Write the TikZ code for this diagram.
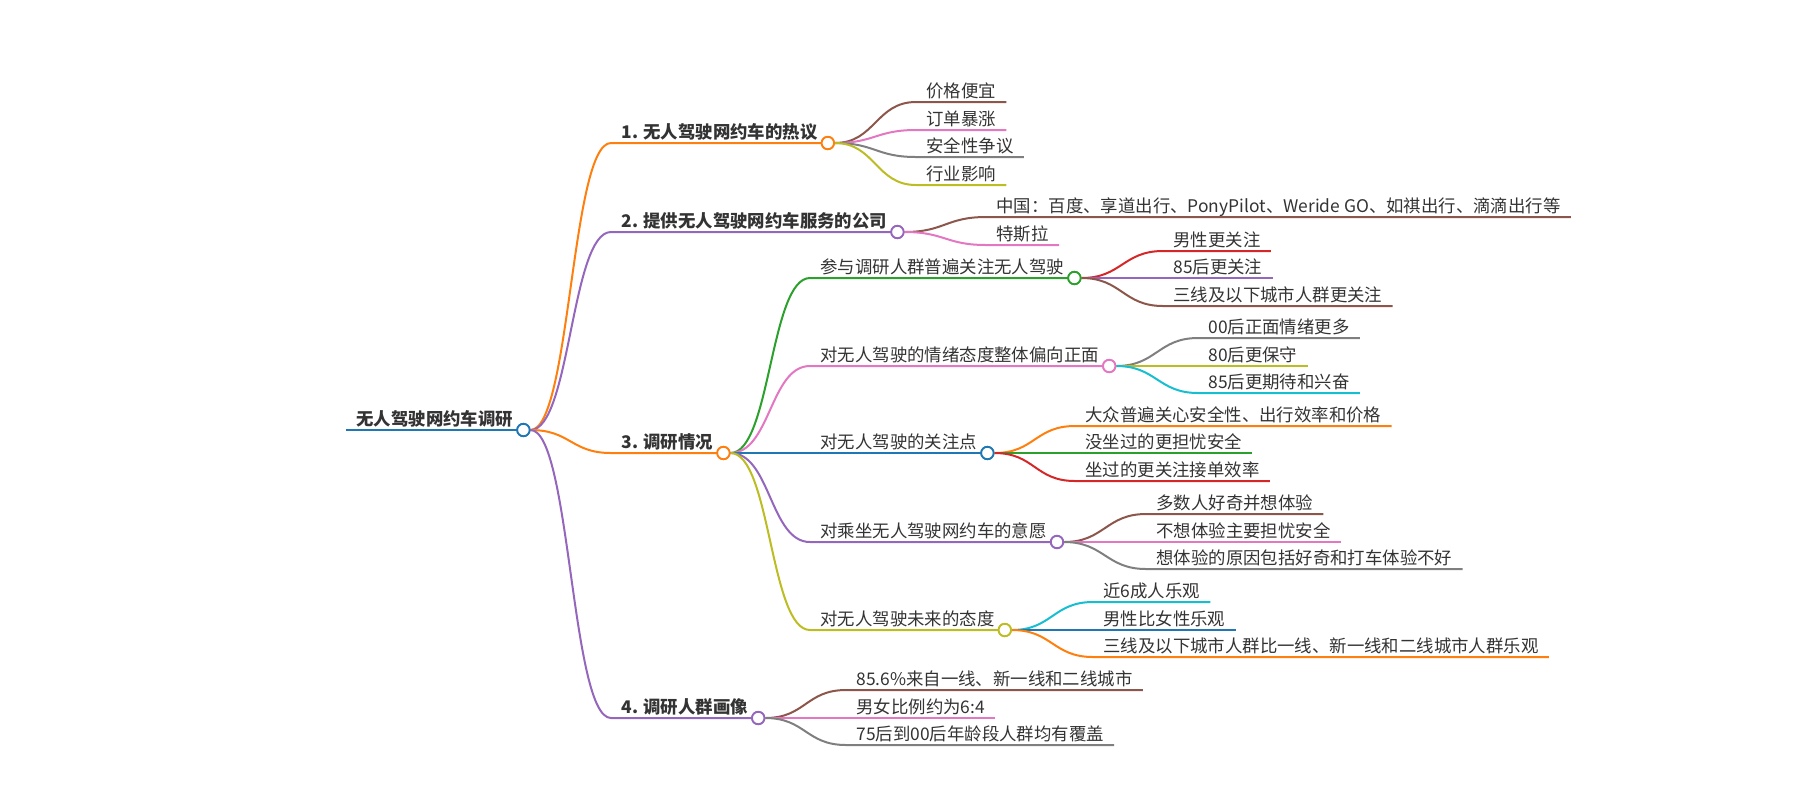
\documentclass[tikz,border=0pt]{standalone}
\usepackage{fontspec}
\setmainfont{Noto Sans CJK SC}
\usetikzlibrary{calc}
\definecolor{ink}{HTML}{333333}
\definecolor{cblue}{HTML}{1F77B4}
\definecolor{corange}{HTML}{FF7F0E}
\definecolor{cgreen}{HTML}{2CA02C}
\definecolor{cred}{HTML}{D62728}
\definecolor{cpurple}{HTML}{9467BD}
\definecolor{cbrown}{HTML}{8C564B}
\definecolor{cpink}{HTML}{E377C2}
\definecolor{cgray}{HTML}{7F7F7F}
\definecolor{colive}{HTML}{BCBD22}
\definecolor{ccyan}{HTML}{17BECF}
\tikzset{
  mind/.style={line width=1pt},
  link/.style={out=0,in=180,distance=20pt},
  topic/.style={anchor=south west,inner xsep=5pt,inner ysep=2.2pt,text depth=0pt,
    text=ink,font=\fontsize{8.7}{10}\selectfont\bfseries},
  leaf/.style={topic,font=\fontsize{8.7}{10}\selectfont},
  knob/.style={circle,draw,fill=white,line width=0.9pt,inner sep=0pt,minimum size=6.2pt},
}

\begin{document}
\begin{tikzpicture}[x=0.5pt,y=-0.5pt]
  \useasboundingbox (0,0) rectangle (1800,800);

  \node[topic] (root) at (346,430) {无人驾驶网约车调研};
  \node[topic] (b1) at (611,143) {1. 无人驾驶网约车的热议};
  \node[topic] (b2) at (611,232) {2. 提供无人驾驶网约车服务的公司};
  \node[topic] (b3) at (611,453) {3. 调研情况};
  \node[topic] (b4) at (611,718) {4. 调研人群画像};

  \node[leaf] (b1a) at (916,102) {价格便宜};
  \node[leaf] (b1b) at (916,130) {订单暴涨};
  \node[leaf] (b1c) at (916,157) {安全性争议};
  \node[leaf] (b1d) at (916,185) {行业影响};

  \node[leaf] (b2a) at (986,217) {中国：百度、享道出行、PonyPilot、Weride GO、如祺出行、滴滴出行等};
  \node[leaf] (b2b) at (986,245) {特斯拉};

  \node[leaf] (s1) at (810,278) {参与调研人群普遍关注无人驾驶};
  \node[leaf] (s2) at (810,366) {对无人驾驶的情绪态度整体偏向正面};
  \node[leaf] (s3) at (810,453) {对无人驾驶的关注点};
  \node[leaf] (s4) at (810,542) {对乘坐无人驾驶网约车的意愿};
  \node[leaf] (s5) at (810,630) {对无人驾驶未来的态度};

  \node[leaf] (s1a) at (1163,251) {男性更关注};
  \node[leaf] (s1b) at (1163,278) {85后更关注};
  \node[leaf] (s1c) at (1163,306) {三线及以下城市人群更关注};
  \node[leaf] (s2a) at (1198,338) {00后正面情绪更多};
  \node[leaf] (s2b) at (1198,366) {80后更保守};
  \node[leaf] (s2c) at (1198,393) {85后更期待和兴奋};
  \node[leaf] (s3a) at (1075,426) {大众普遍关心安全性、出行效率和价格};
  \node[leaf] (s3b) at (1075,453) {没坐过的更担忧安全};
  \node[leaf] (s3c) at (1075,481) {坐过的更关注接单效率};
  \node[leaf] (s4a) at (1146,514) {多数人好奇并想体验};
  \node[leaf] (s4b) at (1146,542) {不想体验主要担忧安全};
  \node[leaf] (s4c) at (1146,569) {想体验的原因包括好奇和打车体验不好};
  \node[leaf] (s5a) at (1093,602) {近6成人乐观};
  \node[leaf] (s5b) at (1093,630) {男性比女性乐观};
  \node[leaf] (s5c) at (1093,657) {三线及以下城市人群比一线、新一线和二线城市人群乐观};

  \node[leaf] (b4a) at (846,690) {85.6\%来自一线、新一线和二线城市};
  \node[leaf] (b4b) at (846,718) {男女比例约为6:4};
  \node[leaf] (b4c) at (846,745) {75后到00后年龄段人群均有覆盖};

  % underlines and links
  \draw[mind,cblue] (root.south west) -- (root.south east);
  \node[knob,draw=cblue] (rootk) at (root.south east) {};

  \draw[mind,corange] (rootk.east) to[link] (b1.south west) -- (b1.south east);
  \draw[mind,cpurple] (rootk.east) to[link] (b2.south west) -- (b2.south east);
  \draw[mind,corange] (rootk.east) to[link] (b3.south west) -- (b3.south east);
  \draw[mind,cpurple] (rootk.east) to[link] (b4.south west) -- (b4.south east);
  \node[knob,draw=corange] (b1k) at (b1.south east) {};
  \node[knob,draw=cpurple] (b2k) at (b2.south east) {};

  \draw[mind,cbrown] (b1k.east) to[link] (b1a.south west) -- (b1a.south east);
  \draw[mind,cpink] (b1k.east) to[link] (b1b.south west) -- (b1b.south east);
  \draw[mind,cgray] (b1k.east) to[link] (b1c.south west) -- (b1c.south east);
  \draw[mind,colive] (b1k.east) to[link] (b1d.south west) -- (b1d.south east);
  \node[knob,draw=corange] at (b1.south east) {};

  \draw[mind,cbrown] (b2k.east) to[link] (b2a.south west) -- (b2a.south east);
  \draw[mind,cpink] (b2k.east) to[link] (b2b.south west) -- (b2b.south east);
  \node[knob,draw=cpurple] at (b2.south east) {};

  \node[knob,draw=corange] (b3k) at (b3.south east) {};
  \draw[mind,cgreen] (b3k.east) to[link] (s1.south west) -- (s1.south east);
  \draw[mind,cpink] (b3k.east) to[link] (s2.south west) -- (s2.south east);
  \draw[mind,cblue] (b3k.east) to[link] (s3.south west) -- (s3.south east);
  \draw[mind,cpurple] (b3k.east) to[link] (s4.south west) -- (s4.south east);
  \draw[mind,colive] (b3k.east) to[link] (s5.south west) -- (s5.south east);
  \node[knob,draw=corange] at (b3.south east) {};

  \node[knob,draw=cgreen] (s1k) at (s1.south east) {};
  \node[knob,draw=cpink] (s2k) at (s2.south east) {};
  \node[knob,draw=cblue] (s3k) at (s3.south east) {};
  \node[knob,draw=cpurple] (s4k) at (s4.south east) {};
  \node[knob,draw=colive] (s5k) at (s5.south east) {};

  \draw[mind,cred] (s1k.east) to[link] (s1a.south west) -- (s1a.south east);
  \draw[mind,cpurple] (s1k.east) to[link] (s1b.south west) -- (s1b.south east);
  \draw[mind,cbrown] (s1k.east) to[link] (s1c.south west) -- (s1c.south east);
  \draw[mind,cgray] (s2k.east) to[link] (s2a.south west) -- (s2a.south east);
  \draw[mind,colive] (s2k.east) to[link] (s2b.south west) -- (s2b.south east);
  \draw[mind,ccyan] (s2k.east) to[link] (s2c.south west) -- (s2c.south east);
  \draw[mind,corange] (s3k.east) to[link] (s3a.south west) -- (s3a.south east);
  \draw[mind,cgreen] (s3k.east) to[link] (s3b.south west) -- (s3b.south east);
  \draw[mind,cred] (s3k.east) to[link] (s3c.south west) -- (s3c.south east);
  \draw[mind,cbrown] (s4k.east) to[link] (s4a.south west) -- (s4a.south east);
  \draw[mind,cpink] (s4k.east) to[link] (s4b.south west) -- (s4b.south east);
  \draw[mind,cgray] (s4k.east) to[link] (s4c.south west) -- (s4c.south east);
  \draw[mind,ccyan] (s5k.east) to[link] (s5a.south west) -- (s5a.south east);
  \draw[mind,cblue] (s5k.east) to[link] (s5b.south west) -- (s5b.south east);
  \draw[mind,corange] (s5k.east) to[link] (s5c.south west) -- (s5c.south east);
  \node[knob,draw=cgreen] at (s1.south east) {};
  \node[knob,draw=cpink] at (s2.south east) {};
  \node[knob,draw=cblue] at (s3.south east) {};
  \node[knob,draw=cpurple] at (s4.south east) {};
  \node[knob,draw=colive] at (s5.south east) {};

  \node[knob,draw=cpurple] (b4k) at (b4.south east) {};
  \draw[mind,cbrown] (b4k.east) to[link] (b4a.south west) -- (b4a.south east);
  \draw[mind,cpink] (b4k.east) to[link] (b4b.south west) -- (b4b.south east);
  \draw[mind,cgray] (b4k.east) to[link] (b4c.south west) -- (b4c.south east);
  \node[knob,draw=cpurple] at (b4.south east) {};
  \node[knob,draw=cblue] at (root.south east) {};
\end{tikzpicture}
\end{document}
